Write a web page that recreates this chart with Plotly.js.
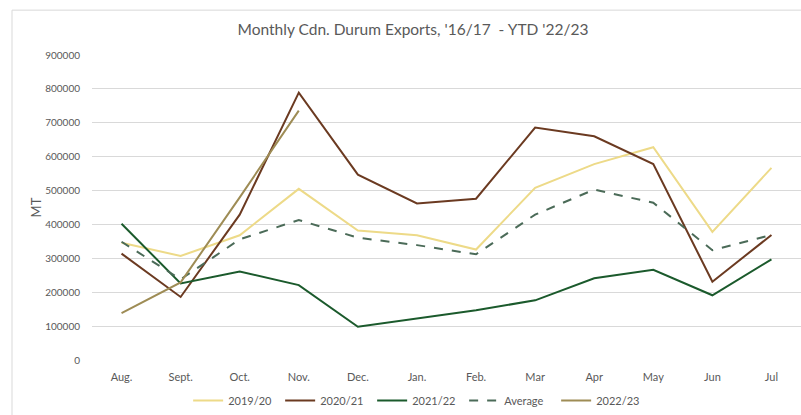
<!DOCTYPE html>
<html>
<head>
<meta charset="utf-8">
<script src="https://cdn.plot.ly/plotly-3.0.1.min.js"></script>
<style>html,body{margin:0;padding:0;background:#fff;}#chart{width:801px;height:415px;}</style>
</head>
<body>
<div id="chart"></div>
<script>
const months = ["Aug.", "Sept.", "Oct.", "Nov.", "Dec.", "Jan.", "Feb.", "Mar", "Apr", "May", "Jun", "Jul"];
const y2019_20 = [346000, 307000, 368000, 505000, 382000, 368000, 326000, 508000, 578000, 628000, 378000, 567000];
const y2020_21 = [314000, 186000, 429000, 789000, 547000, 462000, 476000, 686000, 660000, 578000, 231000, 369000];
const y2021_22 = [402000, 226000, 261000, 221000, 98000, 123000, 147000, 176000, 241000, 266000, 191000, 297000];
const yAverage = [349000, 238000, 356000, 413000, 361000, 339000, 312000, 429000, 503000, 464000, 324000, 369000];
const y2022_23 = [138000, 229000, 480000, 736000];
const yTicks = [0, 100000, 200000, 300000, 400000, 500000, 600000, 700000, 800000, 900000];

const font = "Lato, 'Open Sans', sans-serif";
const traces = [
  {name: "2019/20", y: y2019_20, color: "#EDDA88", dash: "solid"},
  {name: "2020/21", y: y2020_21, color: "#6B3A21", dash: "solid"},
  {name: "2021/22", y: y2021_22, color: "#1B5A2C", dash: "solid"},
  {name: "Average", y: yAverage, color: "#4B6B58", dash: "dash"},
  {name: "2022/23", y: y2022_23, color: "#9E8C55", dash: "solid"}
].map(t => ({
  type: "scatter", mode: "lines", name: t.name,
  x: months.slice(0, t.y.length), y: t.y,
  line: {color: t.color, width: 2, dash: t.dash}
}));

const layout = {
  width: 801, height: 415,
  margin: {l: 92, r: 0, t: 55, b: 54},
  paper_bgcolor: "#fff", plot_bgcolor: "#fff",
  font: {family: font, color: "#595959", size: 11},
  title: {text: "Monthly Cdn. Durum Exports, '16/17  - YTD '22/23", x: 413/801, xref: "container", xanchor: "center", y: 1 - 30/415, yref: "container", yanchor: "middle", font: {family: font, size: 15.5, color: "#595959"}},
  xaxis: {type: "category", categoryorder: "array", categoryarray: months, range: [-0.5, 11.5], showgrid: false, zeroline: false, showline: false, ticks: "", ticklabelstandoff: 9, tickfont: {size: 11, color: "#595959"}},
  yaxis: {range: [0, 900000], tickvals: yTicks, ticktext: yTicks.map(String), showgrid: true, gridcolor: "#D9D9D9", gridwidth: 1, zeroline: false, showline: false, ticks: "", ticklabelstandoff: 11, tickfont: {size: 10, color: "#595959"},
    title: {text: "MT", standoff: 0, font: {size: 13, color: "#595959"}}},
  legend: {orientation: "h", x: 0.46, xanchor: "center", y: -0.134, yanchor: "middle", font: {size: 11, color: "#595959"}, entrywidth: 47, entrywidthmode: "pixels", itemwidth: 30, traceorder: "normal"},
  showlegend: true,
  shapes: [
    {type: "line", xref: "paper", yref: "paper", x0: -80/709, x1: 1.01, y0: 351/306, y1: 351/306, line: {color: "#D9D9D9", width: 1}},
    {type: "line", xref: "paper", yref: "paper", x0: -80/709, x1: -80/709, y0: -0.2, y1: 351/306, line: {color: "#D9D9D9", width: 1}}
  ]
};

Plotly.newPlot("chart", traces, layout, {displayModeBar: false, staticPlot: true});
</script>
</body>
</html>
